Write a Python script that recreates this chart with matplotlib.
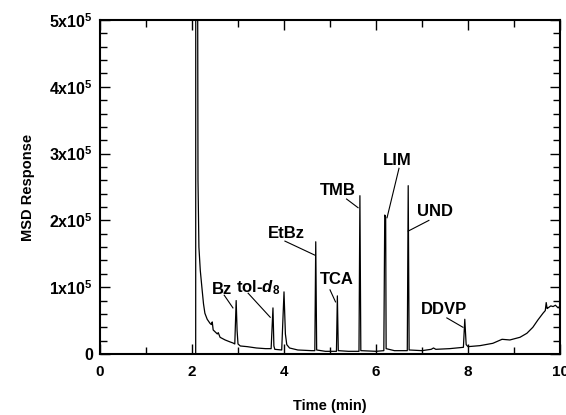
import matplotlib
matplotlib.use("Agg")
import matplotlib.pyplot as plt
from matplotlib.ticker import MultipleLocator, FuncFormatter

plt.rcParams['font.family'] = ['Liberation Sans', 'DejaVu Sans']
plt.rcParams['font.weight'] = 'bold'
plt.rcParams['mathtext.fontset'] = 'custom'
plt.rcParams['mathtext.rm'] = 'Liberation Sans:bold'
plt.rcParams['mathtext.it'] = 'Liberation Sans:bold:italic'
plt.rcParams['mathtext.bf'] = 'Liberation Sans:bold'

# chromatogram trace (time in min, response in counts)
time_min = [2.06, 2.08, 2.085, 2.13, 2.15, 2.18, 2.22, 2.25, 2.28, 2.33, 2.39, 2.42,
            2.44, 2.46, 2.55, 2.57, 2.61, 2.72, 2.83, 2.89, 2.93, 2.96, 2.98, 3.00,
            3.05, 3.20, 3.40, 3.60, 3.72, 3.76, 3.78, 3.80, 3.95, 4.00, 4.03, 4.06,
            4.12, 4.30, 4.60, 4.67, 4.69, 4.71, 4.90, 5.14, 5.16, 5.18, 5.40, 5.63,
            5.65, 5.67, 6.00, 6.17, 6.19, 6.21, 6.22, 6.40, 6.68, 6.70, 6.72, 7.00,
            7.20, 7.25, 7.30, 7.60, 7.90, 7.93, 7.96, 8.00, 8.26, 8.54, 8.74, 8.91,
            9.13, 9.28, 9.41, 9.52, 9.63, 9.68, 9.70, 9.72, 9.74, 9.80, 9.85, 9.90,
            9.96, 10.0]
response = [0, 0, 2.0e6, 2.6e5, 1.6e5, 1.25e5, 9.6e4, 7.5e4, 6.1e4, 5.2e4, 4.6e4, 4.4e4,
            4.8e4, 3.6e4, 3.0e4, 3.2e4, 2.5e4, 2.1e4, 1.8e4, 1.65e4, 1.5e4, 8.0e4, 3.5e4, 1.5e4,
            1.2e4, 1.1e4, 9e3, 8e3, 8e3, 6.9e4, 1.2e4, 7e3, 6e3, 9.3e4, 3.0e4, 1.4e4,
            9e3, 6e3, 5e3, 5e3, 1.68e5, 6e3, 4e3, 4e3, 8.7e4, 5e3, 4e3, 4e3,
            2.37e5, 5e3, 4e3, 5e3, 2.08e5, 2.05e5, 8e3, 5e3, 5e3, 2.52e5, 6e3, 5e3,
            7e3, 9e3, 7e3, 8e3, 1.0e4, 5.2e4, 1.4e4, 1.1e4, 1.25e4, 1.6e4, 2.2e4, 2.1e4,
            2.5e4, 3.1e4, 4.0e4, 5.1e4, 6.1e4, 6.5e4, 7.7e4, 6.8e4, 6.9e4, 7.2e4, 7.1e4, 7.3e4,
            6.9e4, 7.2e4]

# peak labels: text position and leader line (start, end)
labels = ["Bz", r"tol-$\mathit{d}_{\mathit{8}}$", "EtBz", "TCA", "TMB", "LIM", "UND", "DDVP"]
label_xy = [(2.65, 0.97e5), (3.43, 1.0e5), (4.05, 1.81e5), (5.15, 1.11e5),
            (5.17, 2.45e5), (6.46, 2.90e5), (7.28, 2.13e5), (7.48, 0.66e5)]
leader_from = [(2.70, 0.88e5), (3.22, 0.91e5), (4.02, 1.69e5), (5.00, 0.96e5),
               (5.36, 2.32e5), (6.50, 2.78e5), (7.15, 2.00e5), (7.54, 0.54e5)]
leader_to = [(2.89, 0.69e5), (3.70, 0.55e5), (4.67, 1.48e5), (5.12, 0.78e5),
             (5.61, 2.19e5), (6.24, 2.04e5), (6.70, 1.84e5), (7.89, 0.40e5)]

fig = plt.figure(figsize=(5.66, 4.15), dpi=100)
ax = fig.add_axes([0.1767, 0.147, 0.8127, 0.8048])

ax.plot(time_min, response, color="black", lw=0.9)

for lab, xy, p0, p1 in zip(labels, label_xy, leader_from, leader_to):
    ax.text(xy[0], xy[1], lab, ha="center", va="center", fontsize=12, fontweight="bold")
    ax.plot([p0[0], p1[0]], [p0[1], p1[1]], color="black", lw=0.8)

ax.set_xlim(0, 10)
ax.set_ylim(0, 5e5)
ax.xaxis.set_major_locator(MultipleLocator(2))
ax.xaxis.set_minor_locator(MultipleLocator(1))
ax.yaxis.set_major_locator(MultipleLocator(1e5))
ax.yaxis.set_minor_locator(MultipleLocator(2e4))


def yfmt(v, pos):
    n = int(round(v / 1e5))
    if n == 0:
        return "0"
    return f"{n}x10$^{{5}}$"


ax.yaxis.set_major_formatter(FuncFormatter(yfmt))
ax.tick_params(which="both", direction="in", top=True, right=True, width=1)
ax.tick_params(which="major", length=7)
ax.tick_params(which="minor", length=5)
ax.tick_params(axis="x", labelsize=11, pad=8)
ax.tick_params(axis="y", labelsize=11.5, pad=5)
for s in ax.spines.values():
    s.set_linewidth(1.5)

ax.set_xlabel("Time (min)", fontsize=10.5, fontweight="bold", labelpad=14)
ax.set_ylabel("MSD Response", fontsize=10.5, fontweight="bold", labelpad=10)

fig.savefig("out.png", dpi=100)
